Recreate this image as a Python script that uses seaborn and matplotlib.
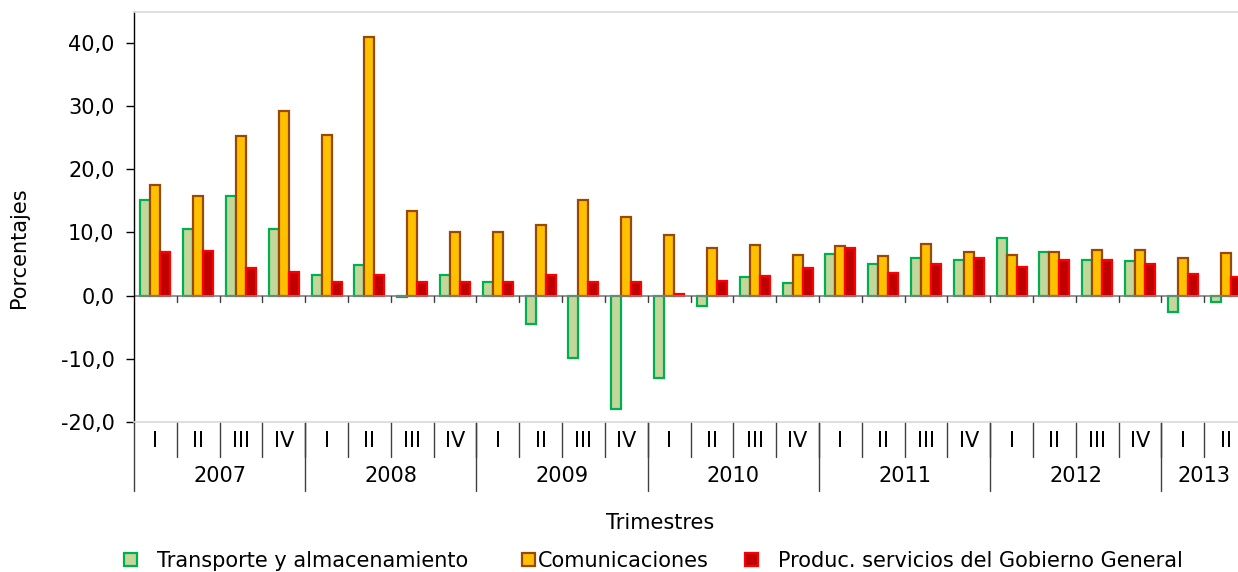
import matplotlib
matplotlib.use("Agg")
import matplotlib.pyplot as plt
import matplotlib.transforms as mtransforms
from matplotlib.patches import Patch
import numpy as np
import pandas as pd
import seaborn as sns

# Quarterly growth rates (%) by sector, 2007-I to 2013-II
years = ["2007", "2008", "2009", "2010", "2011", "2012", "2013"]
quarters = ["I", "II", "III", "IV"]
n_quarters_per_year = [4, 4, 4, 4, 4, 4, 2]

series_names = [
    "Transporte y almacenamiento",
    "Comunicaciones",
    "Produc. servicios del Gobierno General",
]

transporte = [15.1, 10.5, 15.8, 10.6, 3.2, 4.9, -0.2, 3.2,
              2.1, -4.5, -9.8, -17.9, -13.0, -1.6, 3.0, 2.0,
              6.6, 5.0, 6.0, 5.7, 9.1, 6.9, 5.7, 5.5,
              -2.6, -1.0]
comunicaciones = [17.5, 15.7, 25.2, 29.2, 25.5, 40.9, 13.4, 10.0,
                  10.0, 11.2, 15.2, 12.4, 9.6, 7.5, 8.0, 6.4,
                  7.9, 6.2, 8.1, 6.9, 6.4, 6.9, 7.3, 7.2,
                  6.0, 6.7]
gobierno = [6.9, 7.0, 4.4, 3.8, 2.2, 3.2, 2.2, 2.2,
            2.2, 3.2, 2.2, 2.2, 0.2, 2.3, 3.1, 4.3,
            7.5, 3.6, 5.0, 6.0, 4.6, 5.7, 5.6, 5.0,
            3.4, 3.0]

fill_colors = ["#C4D79B", "#FFC000", "#C00000"]
edge_colors = ["#00B050", "#984807", "#FF0000"]

# Long-form table for seaborn
periods = []
for y, n in zip(years, n_quarters_per_year):
    for q in quarters[:n]:
        periods.append(f"{y}-{q}")
df = pd.DataFrame({
    "periodo": periods * 3,
    "serie": np.repeat(series_names, len(periods)),
    "valor": transporte + comunicaciones + gobierno,
})

sns.set_theme(style="white")
plt.rcParams["font.family"] = ["DejaVu Sans"]
plt.rcParams["text.color"] = "black"
plt.rcParams["axes.labelcolor"] = "black"
plt.rcParams["xtick.color"] = "black"
plt.rcParams["ytick.color"] = "black"

W, H = 1238, 572
fig = plt.figure(figsize=(W / 100, H / 100), dpi=100)
ax_left, ax_right = 134, 1247
ax_top, ax_bottom = 12, 422
ax = fig.add_axes([ax_left / W, (H - ax_bottom) / H,
                   (ax_right - ax_left) / W, (ax_bottom - ax_top) / H])

sns.barplot(data=df, x="periodo", y="valor", hue="serie", order=periods,
            hue_order=series_names, palette=fill_colors, width=0.7,
            saturation=1, ax=ax, legend=False)

for cont, fc, ec in zip(ax.containers, fill_colors, edge_colors):
    for bar in cont:
        bar.set_facecolor(fc)
        bar.set_edgecolor(ec)
        bar.set_linewidth(1.6)

n = len(periods)
ax.set_xlim(-0.5, n - 0.5)
ax.set_ylim(-20, 44.9)
ax.set_yticks(np.arange(-20, 41, 10))
ax.set_yticklabels([f"{v:.1f}".replace(".", ",") for v in np.arange(-20, 41, 10)],
                   fontsize=15, color="black")
ax.tick_params(axis="y", direction="out", length=6, width=1, color="black",
               pad=8, left=True)
ax.tick_params(axis="x", bottom=False, labelbottom=False)
ax.set_xlabel("")

ax.spines["right"].set_visible(False)
ax.spines["left"].set_color("black")
ax.spines["left"].set_linewidth(1)
ax.spines["top"].set_color("#d9d9d9")
ax.spines["bottom"].set_color("#d9d9d9")
ax.spines["top"].set_linewidth(1.2)
ax.spines["bottom"].set_linewidth(1.2)

# zero line with small ticks at quarter boundaries
ax.axhline(0, color="#808080", lw=1.2, zorder=1)
bounds = np.arange(0.5, n - 0.5, 1.0)
for b in bounds:
    ax.plot([b, b], [0, -1.0], color="#404040", lw=1, zorder=1)

# two-level category axis below the plot
trans = mtransforms.blended_transform_factory(ax.transData, ax.transAxes)
h_px = ax_bottom - ax_top
def frac(ypix):
    return (ax_bottom - ypix) / h_px

for i, p in enumerate(periods):
    q = p.split("-")[1]
    ax.text(i, frac(441), q, transform=trans, ha="center", va="center",
            fontsize=15, color="black", clip_on=False)
for b in bounds:
    ax.plot([b, b], [0, frac(457)], transform=trans, color="#404040",
            lw=1, clip_on=False)

start = 0
year_edges = [-0.5]
for y, k in zip(years, n_quarters_per_year):
    center = start + (k - 1) / 2
    ax.text(center, frac(476), y, transform=trans, ha="center", va="center",
            fontsize=15, color="black", clip_on=False)
    start += k
    year_edges.append(start - 0.5)
for e in year_edges[:-1]:
    ax.plot([e, e], [0, frac(491)], transform=trans, color="#404040",
            lw=1, clip_on=False)

ax.set_ylabel("Porcentajes", fontsize=15, color="black")
ax.yaxis.set_label_coords((29 - ax_left) / (ax_right - ax_left), frac(248))

fig.text(660 / W, 1 - 523 / H, "Trimestres", ha="center", va="center",
         fontsize=15, color="black")

# legend: one entry per series, placed along the bottom
legend_x = [124, 522, 745]
text_pad = [1.0, 0.15, 1.0]
for name, fc, ec, lx, tp in zip(series_names, fill_colors, edge_colors,
                                legend_x, text_pad):
    h = Patch(facecolor=fc, edgecolor=ec, linewidth=1.6)
    leg = fig.legend([h], [name], loc="center left",
                     bbox_to_anchor=(lx / W, 1 - 561 / H), frameon=False,
                     fontsize=15, handlelength=0.6, handleheight=0.6,
                     handletextpad=tp, borderaxespad=0, borderpad=0)
    for t in leg.get_texts():
        t.set_color("black")

fig.savefig("out.png", dpi=100)
